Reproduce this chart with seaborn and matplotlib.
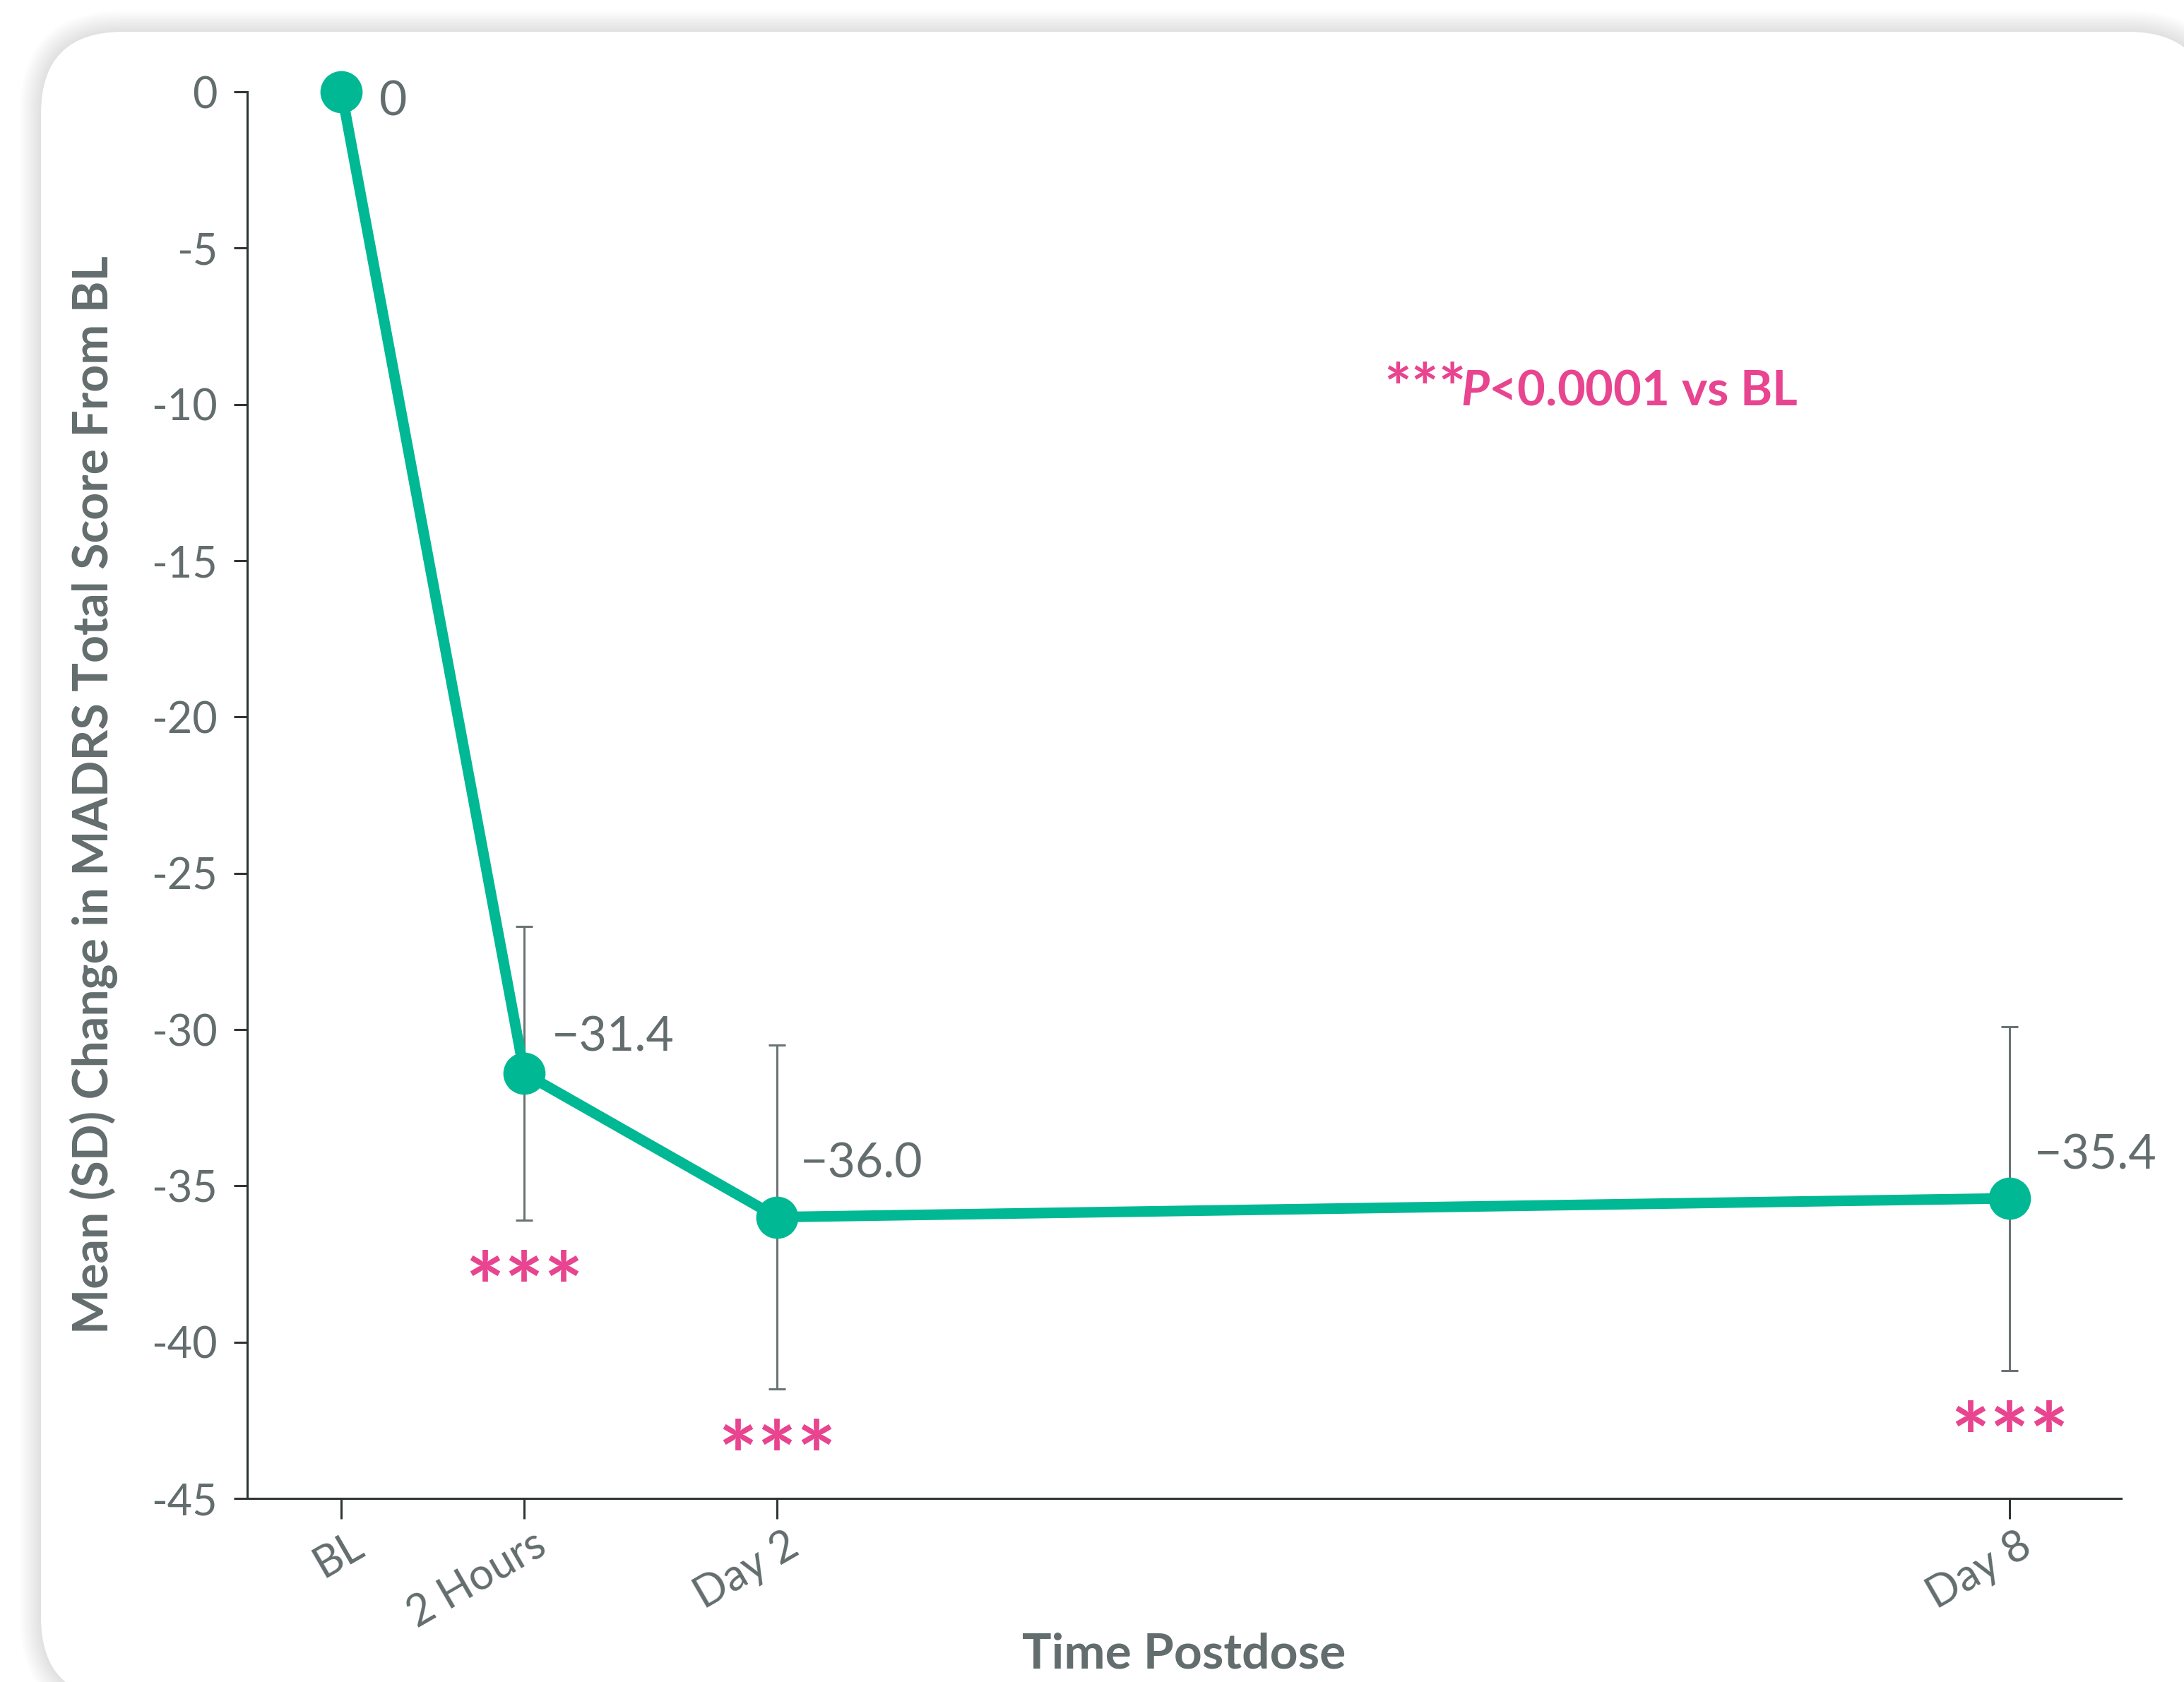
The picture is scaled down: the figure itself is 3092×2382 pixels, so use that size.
import numpy as np
import pandas as pd
import matplotlib
matplotlib.use("Agg")
import matplotlib.pyplot as plt
import seaborn as sns
from matplotlib.patches import FancyBboxPatch
from matplotlib import transforms

# ---------------- data ----------------
time_labels = ["BL", "2 Hours", "Day 2", "Day 8"]
time_pos = [-0.12, 0.77, 2.0, 8.0]          # plotted time position (days)
mean_change = [0.0, -31.4, -36.0, -35.4]
sd_change = [np.nan, 4.7, 5.5, 5.5]
value_labels = ["0", "\u221231.4", "\u221236.0", "\u221235.4"]
significant = [False, True, True, True]
y_ticks = [0, -5, -10, -15, -20, -25, -30, -35, -40, -45]
y_label = "Mean (SD) Change in MADRS Total Score From BL"
x_label = "Time Postdose"
footnote_stars = "***"
footnote_text = "$\\mathit{P}$<0.0001 vs BL"

# ---------------- style ----------------
GREEN = "#00b894"
PINK = "#e8448f"
GRAY = "#636d6e"
ERR_GRAY = "#6b7475"
SPINE = "#2e3535"

sns.set_theme(style="ticks")
plt.rcParams["font.family"] = ["Lato", "DejaVu Sans"]
plt.rcParams["mathtext.fontset"] = "custom"
plt.rcParams["mathtext.it"] = "Lato:italic:bold"
plt.rcParams["mathtext.rm"] = "Lato:bold"

W, H, DPI = 3092, 2382, 100
fig = plt.figure(figsize=(W / DPI, H / DPI), dpi=DPI, facecolor="white")
px = 1.0 / DPI

# rounded white panel with soft shadow
pl, ptop, pr, pb = 58, 45, 3129, 2406
rad = 116
N = 15
for k in range(N, 0, -1):
    e = 30.0 * k / N
    fig.add_artist(FancyBboxPatch(
        ((pl - e) * px, (H - pb - e) * px), (pr - pl + 2 * e) * px, (pb - ptop + 2 * e) * px,
        boxstyle=f"round,pad=0,rounding_size={(rad + e) * px}",
        transform=fig.dpi_scale_trans, facecolor=(0.55, 0.55, 0.55), alpha=0.012,
        edgecolor="none", zorder=-10))
fig.add_artist(FancyBboxPatch(
    (pl * px, (H - pb) * px), (pr - pl) * px, (pb - ptop) * px,
    boxstyle=f"round,pad=0,rounding_size={rad * px}",
    transform=fig.dpi_scale_trans, facecolor="white", edgecolor="none", zorder=-9))

# ---------------- axes ----------------
ax = fig.add_axes([350 / W, (H - 2122) / H, (3003 - 350) / W, (2122 - 130) / H])
ax.patch.set_alpha(0)

df = pd.DataFrame({"time": time_pos, "change": mean_change, "sd": sd_change,
                   "label": value_labels, "sig": significant})
err = df.dropna(subset=["sd"])
ax.errorbar(err["time"], err["change"], yerr=err["sd"], fmt="none", ecolor=ERR_GRAY,
            elinewidth=2.2, capsize=8.3, capthick=2.2, zorder=2)

sns.lineplot(data=df, x="time", y="change", ax=ax, color=GREEN, linewidth=10.8,
             marker="o", markersize=43, markeredgewidth=0, zorder=3, clip_on=False)

# value labels (offsets in pixels)
label_offsets = [(54, -33), (39, 31), (33, 56), (35, 42)]
for (_, r), off in zip(df.iterrows(), label_offsets):
    ax.annotate(r["label"], xy=(r["time"], r["change"]), xytext=off,
                textcoords="offset pixels", ha="left", va="baseline",
                fontsize=49, color=GRAY, annotation_clip=False)

# significance stars below the error bars
for _, r in df[df["sig"]].iterrows():
    ax.annotate("***", xy=(r["time"], r["change"] - r["sd"]), xytext=(0, -142),
                textcoords="offset pixels", ha="center", va="baseline",
                fontsize=95, fontweight="bold", color=PINK)

ax.set_xlim(-0.579, 8.543)
ax.set_ylim(-45, 0)
ax.set_xticks(time_pos, time_labels)
ax.set_yticks(y_ticks, [str(t) for t in y_ticks])

for s in ["top", "right"]:
    ax.spines[s].set_visible(False)
for s in ["left", "bottom"]:
    ax.spines[s].set_linewidth(2.2)
    ax.spines[s].set_color(SPINE)

ax.tick_params(axis="x", length=20.9, width=2.2, color=SPINE, labelcolor=GRAY,
               labelsize=44, pad=6)
ax.tick_params(axis="y", length=13.7, width=2.2, color=SPINE, labelcolor=GRAY,
               labelsize=44, pad=16.5)
shift = transforms.ScaledTranslation(0.12, 0, fig.dpi_scale_trans)
for lab in ax.get_xticklabels():
    lab.set_rotation(30)
    lab.set_ha("right")
    lab.set_rotation_mode("anchor")
    lab.set_transform(lab.get_transform() + shift)

ax.set_ylabel(y_label, fontsize=49, fontweight="bold", color=GRAY)
ax.yaxis.set_label_coords(-0.069, 0.5)
ax.set_xlabel(x_label, fontsize=50, fontweight="bold", color=GRAY)
ax.xaxis.set_label_coords(0.5, -0.095)

# footnote: larger asterisks followed by the P-value text
t1 = fig.text(1959 / W, (H - 582) / H, footnote_stars, fontsize=66, fontweight="bold",
              color=PINK, ha="left", va="baseline")
renderer = fig.canvas.get_renderer()
bb = t1.get_window_extent(renderer=renderer)
fig.text((bb.x1 - 8) / W, (H - 574) / H, footnote_text, fontsize=49.5, fontweight="bold",
         color=PINK, ha="left", va="baseline")

fig.savefig("out.png", dpi=DPI, facecolor="white")
